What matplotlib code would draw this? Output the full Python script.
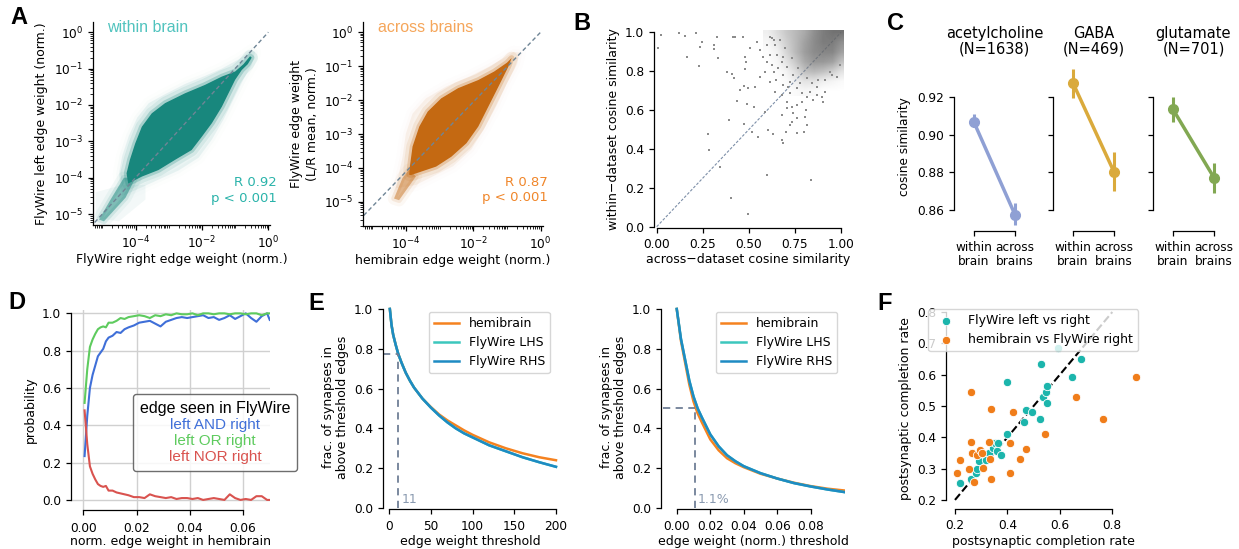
import matplotlib
matplotlib.use('Agg')
import matplotlib.pyplot as plt
import numpy as np
from matplotlib.lines import Line2D
from matplotlib.ticker import FixedLocator, LogLocator, NullFormatter

W, H = 1239, 549

# ---- A: outlines of the two edge-weight clouds, log10 units
within_core_lx = [-4.27, -4.17, -4.01, -3.81, -3.51, -3.11, -2.51, -1.91, -1.40, -1.0, -0.75,
                  -0.55, -0.5, -0.62, -0.8, -1.0, -1.2, -1.40, -1.70, -2.0, -2.31, -2.81, -3.31,
                  -3.81, -4.22]
within_core_ly = [-3.88, -3.51, -3.06, -2.6, -2.23, -1.95, -1.68, -1.45, -1.22, -1.08, -0.88,
                  -0.66, -0.7, -0.88, -1.04, -1.31, -1.68, -2.05, -2.5, -2.87, -3.24, -3.51, -3.79,
                  -3.97, -4.16]
within_halo_lx = [-4.5, -4.4, -4.2, -3.95, -3.6, -3.1, -2.5, -1.9, -1.4, -0.9, -0.5, -0.4,
                  -0.5, -0.75, -1.05, -1.35, -1.7, -2.1, -2.7, -3.3, -3.9, -4.4]
within_halo_ly = [-3.9, -3.4, -2.85, -2.35, -1.95, -1.7, -1.42, -1.2, -1.0, -0.75, -0.5, -0.55,
                  -0.9, -1.3, -1.85, -2.4, -2.95, -3.45, -3.8, -4.05, -4.3, -4.5]
within_tail_lx = [-5.1, -4.75, -4.35, -4.0, -4.3, -4.95]
within_tail_ly = [-5.15, -4.6, -4.0, -4.0, -4.55, -5.2]
within_floor_lx = [-5.2, -5.2, -4.4, -3.7, -3.7, -4.5]
within_floor_ly = [-5.1, -4.4, -4.2, -4.2, -4.6, -5.2]

across_core_lx = [-3.9, -3.88, -3.8, -3.6, -3.35, -2.95, -2.45, -1.85, -1.38, -1.0, -0.86,
                  -0.95, -1.25, -1.55, -1.85, -2.2, -2.65, -3.1, -3.55, -3.85]
across_core_ly = [-4.2, -3.96, -3.37, -2.78, -2.34, -1.95, -1.65, -1.41, -1.16, -0.9, -0.76,
                  -1.0, -1.6, -2.19, -2.78, -3.27, -3.67, -3.96, -4.11, -4.21]
across_halo_lx = [-4.3, -4.1, -4.0, -3.8, -3.4, -2.8, -2.1, -1.6, -1.15, -0.8, -0.62,
                  -0.7, -1.0, -1.3, -1.65, -2.05, -2.6, -3.2, -3.7]
across_halo_ly = [-4.6, -3.7, -3.0, -2.4, -1.95, -1.6, -1.3, -1.05, -0.8, -0.58, -0.6,
                  -0.95, -1.5, -2.15, -2.8, -3.45, -3.95, -4.25, -4.5]
across_tail_lx = [-4.35, -4.1, -3.9, -3.7, -4.2]
across_tail_ly = [-4.9, -4.3, -4.05, -4.25, -4.95]

# ---- B: cosine similarity, single points + density of the crowded corner
b_across = [0.024, 0.123, 0.154, 0.212, 0.005, 0.244, 0.235, 0.311, 0.311, 0.329, 0.163, 0.230,
            0.335, 0.380, 0.409, 0.420, 0.479, 0.483, 0.479, 0.474, 0.494, 0.533, 0.452, 0.434,
            0.488, 0.530, 0.391, 0.474, 0.515, 0.548, 0.606, 0.629, 0.588, 0.682, 0.684, 0.702,
            0.732, 0.814, 0.805, 0.760, 0.280, 0.282, 0.344, 0.401, 0.494, 0.597, 0.835, 0.425,
            0.467, 0.412, 0.506, 0.542, 0.560, 0.597, 0.624, 0.588, 0.637, 0.647, 0.687, 0.723,
            0.642, 0.678, 0.705, 0.741, 0.787, 0.868, 0.895, 0.913, 0.832, 0.868, 0.940, 0.995,
            0.615, 0.637, 0.651, 0.684, 0.615, 0.560, 0.615, 0.723, 0.760, 0.808, 0.678, 0.723,
            0.760, 0.801, 0.624, 0.642, 0.669, 0.696, 0.678, 0.705, 0.732, 0.741, 0.769, 0.778,
            0.814, 0.841, 0.877, 0.913, 0.949, 0.976, 0.597, 0.579, 0.660, 0.687, 0.714, 0.787,
            0.814, 0.850, 0.904, 0.760, 0.705, 0.732]
b_within = [0.986, 0.995, 0.981, 0.995, 0.918, 0.952, 0.926, 0.935, 0.914, 0.974, 0.875, 0.828,
            0.870, 0.798, 0.786, 0.763, 0.871, 0.849, 0.810, 0.724, 0.712, 0.719, 0.702, 0.647,
            0.631, 0.617, 0.549, 0.527, 0.489, 0.463, 0.497, 0.475, 0.588, 0.446, 0.429, 0.489,
            0.540, 0.523, 0.566, 0.626, 0.475, 0.394, 0.309, 0.146, 0.067, 0.266, 0.238, 0.978,
            0.978, 0.978, 0.918, 0.952, 0.909, 0.849, 0.832, 0.798, 0.798, 0.755, 0.729, 0.686,
            0.695, 0.678, 0.609, 0.583, 0.643, 0.678, 0.669, 0.695, 0.695, 0.720, 0.798, 0.832,
            0.978, 0.961, 0.883, 0.875, 0.883, 0.772, 0.746, 0.746, 0.712, 0.600, 0.575, 0.523,
            0.480, 0.489, 0.969, 0.935, 0.961, 0.918, 0.849, 0.823, 0.866, 0.780, 0.815, 0.738,
            0.763, 0.738, 0.755, 0.755, 0.780, 0.772, 0.935, 0.875, 0.815, 0.780, 0.720, 0.686,
            0.669, 0.652, 0.643, 0.557, 0.643, 0.617]
b_grid_x = [0.60, 0.65, 0.70, 0.75, 0.80, 0.85, 0.90, 0.95, 1.00]
b_grid_y = [0.70, 0.75, 0.80, 0.85, 0.90, 0.95, 1.00]
b_density = [[0.00, 0.00, 0.00, 0.05, 0.08, 0.05, 0.00, 0.00, 0.00],
             [0.00, 0.00, 0.05, 0.15, 0.25, 0.25, 0.15, 0.10, 0.05],
             [0.00, 0.03, 0.12, 0.30, 0.50, 0.55, 0.50, 0.40, 0.25],
             [0.00, 0.08, 0.25, 0.45, 0.65, 0.75, 0.75, 0.70, 0.50],
             [0.03, 0.12, 0.35, 0.55, 0.72, 0.82, 0.85, 0.85, 0.70],
             [0.08, 0.22, 0.40, 0.55, 0.70, 0.82, 0.90, 0.90, 0.80],
             [0.15, 0.30, 0.45, 0.55, 0.65, 0.80, 0.90, 0.95, 0.95]]

# ---- C: cosine similarity by transmitter
c_names = ['acetylcholine\n(N=1638)', 'GABA\n(N=469)', 'glutamate\n(N=701)']
c_within = [0.9067, 0.9276, 0.9136]
c_within_lo = [0.9040, 0.9196, 0.9069]
c_within_hi = [0.9110, 0.9352, 0.9200]
c_across = [0.8575, 0.8803, 0.8772]
c_across_lo = [0.8520, 0.8700, 0.8689]
c_across_hi = [0.8637, 0.8910, 0.8848]
c_colors = ['#8fa0d4', '#daaa3c', '#82a852']
c_ticks = ['within\nbrain', 'across\nbrains']

# ---- D: probability edge seen in FlyWire
d_x = [0.0005, 0.0015, 0.0025, 0.0035, 0.0045, 0.0055, 0.0065, 0.0075, 0.0085, 0.0095, 0.011,
       0.0125, 0.014, 0.0155, 0.017, 0.019, 0.021, 0.023, 0.025, 0.027, 0.029, 0.031, 0.033,
       0.035, 0.037, 0.039, 0.041, 0.043, 0.045, 0.047, 0.049, 0.051, 0.053, 0.055, 0.057,
       0.059, 0.061, 0.063, 0.065, 0.067, 0.069, 0.070]
d_or = [0.52, 0.70, 0.82, 0.86, 0.89, 0.915, 0.925, 0.93, 0.925, 0.95, 0.95, 0.96, 0.975, 0.97,
        0.98, 0.985, 0.99, 0.985, 0.975, 0.99, 0.985, 0.995, 0.99, 1.0, 0.995, 0.995, 1.0, 0.99,
        1.0, 1.0, 0.995, 1.0, 1.0, 0.995, 1.0, 1.0, 0.995, 1.0, 1.0, 0.99, 1.0, 1.0]
d_and = [0.235, 0.45, 0.60, 0.67, 0.72, 0.77, 0.79, 0.81, 0.85, 0.87, 0.88, 0.90, 0.895, 0.915,
         0.925, 0.935, 0.95, 0.955, 0.96, 0.945, 0.93, 0.955, 0.965, 0.975, 0.98, 0.975, 0.98,
         0.985, 0.99, 0.975, 0.98, 0.965, 0.975, 0.99, 0.97, 0.985, 1.0, 0.975, 0.955, 0.985,
         1.0, 0.965]
d_nor = [0.48, 0.30, 0.18, 0.14, 0.11, 0.085, 0.075, 0.07, 0.075, 0.05, 0.05, 0.04, 0.035, 0.03,
         0.025, 0.015, 0.015, 0.01, 0.03, 0.02, 0.015, 0.01, 0.015, 0.005, 0.01, 0.01, 0.005,
         0.01, 0.0, 0.005, 0.01, 0.005, 0.0, 0.03, 0.01, 0.0, 0.005, 0.0, 0.02, 0.02, 0.0, 0.0]
d_labels = ['left AND right', 'left OR right', 'left NOR right']
d_colors = ['#3f6fd8', '#5ecb5e', '#d9534f']

# ---- E: fraction of synapses above threshold
e1_x = [1, 3, 5, 8, 11, 15, 20, 25, 30, 40, 50, 60, 70, 80, 90, 100, 120, 140, 160, 180, 200]
e1_fw = [1.0, 0.92, 0.87, 0.82, 0.775, 0.73, 0.68, 0.64, 0.605, 0.55, 0.505, 0.465, 0.43, 0.40,
         0.375, 0.355, 0.315, 0.285, 0.255, 0.23, 0.207]
e1_hb = [1.0, 0.92, 0.87, 0.82, 0.775, 0.73, 0.68, 0.64, 0.605, 0.55, 0.508, 0.47, 0.44, 0.415,
         0.39, 0.368, 0.33, 0.30, 0.275, 0.255, 0.24]
e2_x = [0.0, 0.0025, 0.005, 0.0075, 0.01, 0.0125, 0.015, 0.02, 0.025, 0.03, 0.035, 0.04, 0.05,
        0.06, 0.07, 0.08, 0.09, 0.1]
e2_fw = [1.0, 0.85, 0.745, 0.64, 0.56, 0.50, 0.455, 0.37, 0.31, 0.265, 0.235, 0.21, 0.175, 0.148,
         0.125, 0.108, 0.093, 0.08]
e2_hb = [1.0, 0.84, 0.73, 0.62, 0.535, 0.475, 0.43, 0.345, 0.29, 0.25, 0.225, 0.205, 0.172,
         0.148, 0.127, 0.11, 0.097, 0.088]
e_colors = {'hemibrain': '#f58220', 'FlyWire LHS': '#3cc7bd', 'FlyWire RHS': '#1e8bc3'}

# ---- F: completion rates
f_lr_x = [0.219, 0.260, 0.280, 0.283, 0.292, 0.318, 0.331, 0.346, 0.353, 0.365, 0.360, 0.374,
          0.397, 0.400, 0.463, 0.470, 0.492, 0.524, 0.528, 0.537, 0.546, 0.550, 0.550, 0.594,
          0.645, 0.680]
f_lr_y = [0.255, 0.267, 0.287, 0.300, 0.325, 0.328, 0.351, 0.365, 0.383, 0.383, 0.357, 0.344,
          0.411, 0.577, 0.450, 0.488, 0.480, 0.458, 0.635, 0.530, 0.546, 0.565, 0.510, 0.686,
          0.592, 0.651]
f_hb_x = [0.209, 0.219, 0.255, 0.261, 0.262, 0.264, 0.272, 0.283, 0.295, 0.303, 0.305, 0.328,
          0.335, 0.337, 0.337, 0.409, 0.411, 0.422, 0.449, 0.469, 0.542, 0.660, 0.764, 0.890]
f_hb_y = [0.285, 0.327, 0.298, 0.546, 0.385, 0.351, 0.256, 0.344, 0.358, 0.349, 0.301, 0.384,
          0.330, 0.267, 0.490, 0.383, 0.287, 0.480, 0.331, 0.363, 0.412, 0.530, 0.458, 0.592]

plt.rcParams['font.family'] = 'DejaVu Sans'
plt.rcParams['font.size'] = 9
plt.rcParams['axes.labelsize'] = 9
plt.rcParams['xtick.labelsize'] = 8.7
plt.rcParams['ytick.labelsize'] = 8.7
plt.rcParams['axes.linewidth'] = 0.9
plt.rcParams['xtick.major.width'] = 0.9
plt.rcParams['ytick.major.width'] = 0.9
plt.rcParams['xtick.major.size'] = 3.5
plt.rcParams['ytick.major.size'] = 3.5
plt.rcParams['legend.fontsize'] = 9

fig = plt.figure(figsize=(W / 100, H / 100), dpi=100)


def add_ax(l, t, r, b):
    return fig.add_axes([l / W, 1 - b / H, (r - l) / W, (b - t) / H])


def despine(ax):
    ax.spines['top'].set_visible(False)
    ax.spines['right'].set_visible(False)


def cloud(ax, lx, ly, color, alpha, feather=True):
    xs = 10.0 ** np.array(lx)
    ys = 10.0 ** np.array(ly)
    ax.fill(xs, ys, color=color, alpha=alpha, lw=0)
    if feather:
        # soft border, like the thinning scatter at the edge of the cloud
        for lw, a in [(9, 0.1), (4, 0.25)]:
            ax.fill(xs, ys, facecolor='none', edgecolor=color, alpha=a * alpha, lw=lw,
                    joinstyle='round')


def log_axes(ax, xlim, ylim):
    ax.set_xscale('log')
    ax.set_yscale('log')
    ax.set_xlim(10 ** xlim[0], 10 ** xlim[1])
    ax.set_ylim(10 ** ylim[0], 10 ** ylim[1])
    ax.xaxis.set_major_locator(FixedLocator([1e-4, 1e-2, 1]))
    ax.yaxis.set_major_locator(FixedLocator([1e-5, 1e-4, 1e-3, 1e-2, 1e-1, 1]))
    ax.xaxis.set_minor_locator(LogLocator(base=10, subs=np.arange(1, 10), numticks=100))
    ax.yaxis.set_minor_locator(LogLocator(base=10, subs=np.arange(2, 10), numticks=100))
    ax.xaxis.set_minor_formatter(NullFormatter())
    ax.yaxis.set_minor_formatter(NullFormatter())
    ax.tick_params(which='minor', length=2, width=0.6)
    despine(ax)


def letter(x, y, s):
    fig.text(x / W, 1 - y / H, s, fontsize=17, fontweight='bold',
             family='Liberation Sans', va='top', ha='left')


# A left
ax = add_ax(93, 22, 270, 225)
log_axes(ax, (-5.28, 0.05), (-5.3, 0.28))
cloud(ax, within_floor_lx, within_floor_ly, '#18877d', 0.05, feather=False)
cloud(ax, within_halo_lx, within_halo_ly, '#18877d', 0.08)
cloud(ax, within_tail_lx, within_tail_ly, '#18877d', 0.5)
cloud(ax, within_core_lx, within_core_ly, '#18877d', 1.0)
ax.plot([10 ** -5.23, 1], [10 ** -5.23, 1], '--', color='#6f8596', lw=1, dashes=(3, 2))
ax.text(0.08, 0.975, 'within brain', transform=ax.transAxes, color='#50c3be', fontsize=11.5,
        family='Liberation Sans', va='center')
ax.text(1.04, 0.207, 'R 0.92', transform=ax.transAxes, color='#2ab3aa', fontsize=9.5,
        ha='right', va='center')
ax.text(1.04, 0.133, 'p < 0.001', transform=ax.transAxes, color='#2ab3aa', fontsize=9.5,
        ha='right', va='center')
ax.set_xlabel('FlyWire right edge weight (norm.)', labelpad=1.5)
ax.set_ylabel('FlyWire left edge weight (norm.)')

# A right
ax = add_ax(363, 22, 543, 226)
log_axes(ax, (-5.27, 0.07), (-5.71, 0.3))
cloud(ax, across_halo_lx, across_halo_ly, '#c46912', 0.07)
cloud(ax, across_tail_lx, across_tail_ly, '#c46912', 0.45)
cloud(ax, across_core_lx, across_core_ly, '#c46912', 1.0)
ax.plot([10 ** -5.25, 1], [10 ** -5.4, 1], '--', color='#6f8596', lw=1, dashes=(3, 2))
ax.text(0.083, 0.973, 'across brains', transform=ax.transAxes, color='#f5a65b', fontsize=11.5,
        family='Liberation Sans', va='center')
ax.text(1.028, 0.212, 'R 0.87', transform=ax.transAxes, color='#f0862a', fontsize=9.5,
        ha='right', va='center')
ax.text(1.028, 0.141, 'p < 0.001', transform=ax.transAxes, color='#f0862a', fontsize=9.5,
        ha='right', va='center')
ax.set_xlabel('hemibrain edge weight (norm.)', labelpad=1.5)
ax.set_ylabel('FlyWire edge weight\n(L/R mean, norm.)')

# B
ax = add_ax(654, 30, 843, 228)
despine(ax)
ax.spines['left'].set_bounds(0, 1)
ax.spines['bottom'].set_bounds(0, 1)
ax.plot([0, 1], [0, 1], '--', color='#7d8fa8', lw=0.8, dashes=(2.5, 1.5), zorder=1)
dens = np.array(b_density)
rgba = np.zeros(dens.shape + (4,))
for k in range(3):
    rgba[..., k] = 0.6 - 0.22 * dens
rgba[..., 3] = np.clip(dens * 0.95, 0, 1)
dx = (b_grid_x[1] - b_grid_x[0]) / 2
dy = (b_grid_y[1] - b_grid_y[0]) / 2
ax.imshow(rgba, origin='lower', interpolation='bilinear', aspect='auto', zorder=2,
          extent=(b_grid_x[0] - dx, b_grid_x[-1] + dx, b_grid_y[0] - dy, b_grid_y[-1] + dy))
ax.set_xlim(-0.0146, 1.011)
ax.set_ylim(-0.0067, 1.0123)
ax.scatter(b_across, b_within, s=4.5, marker='s', color='#8c8c8c', lw=0, zorder=3)
ax.set_xticks([0, 0.25, 0.5, 0.75, 1.0])
ax.set_xticklabels(['0.00', '0.25', '0.50', '0.75', '1.00'])
ax.set_yticks([0, 0.2, 0.4, 0.6, 0.8, 1.0])
ax.set_xlabel('across\u2212dataset cosine similarity', labelpad=2)
ax.set_ylabel('within\u2212dataset cosine similarity')

# C
c_left = [953.5, 1052.5, 1152.5]
for i in range(3):
    ax = add_ax(c_left[i], 67.3, c_left[i] + 82, 226.9)
    despine(ax)
    col = c_colors[i]
    ax.plot([0, 1], [c_within[i], c_across[i]], '-', color=col, lw=2.5)
    ys = [c_within[i], c_across[i]]
    lo = [c_within[i] - c_within_lo[i], c_across[i] - c_across_lo[i]]
    hi = [c_within_hi[i] - c_within[i], c_across_hi[i] - c_across[i]]
    ax.errorbar([0, 1], ys, yerr=[lo, hi], fmt='o', color=col, ms=7, elinewidth=2.2, capsize=0)
    ax.set_xlim(-0.5, 1.5)
    ax.set_ylim(0.851, 0.936)
    ax.spines['bottom'].set_position(('outward', 3))
    ax.spines['left'].set_bounds(0.86, 0.92)
    ax.spines['bottom'].set_bounds(0, 1)
    ax.set_yticks([0.86, 0.88, 0.90, 0.92])
    if i > 0:
        ax.set_yticklabels([])
    else:
        ax.set_ylabel('cosine similarity', fontsize=8.7)
    ax.set_xticks([0, 1])
    ax.set_xticklabels(c_ticks, linespacing=1.1)
    ax.set_title(c_names[i], fontsize=10.5, pad=10, linespacing=1.05)

# D
ax = add_ax(71, 310, 270, 510)
ax.set_xlim(-0.0046, 0.0701)
ax.set_ylim(-0.054, 1.018)
despine(ax)
ax.grid(True, color='#d0d0d0', lw=1)
ax.set_axisbelow(True)
ax.spines['left'].set_bounds(0, 1)
ax.spines['bottom'].set_bounds(0, 0.06)
for ys, c in zip([d_and, d_or, d_nor], d_colors):
    ax.plot(d_x, ys, color=c, lw=1.5)
ax.set_xticks([0, 0.02, 0.04, 0.06])
ax.set_xticklabels(['0.00', '0.02', '0.04', '0.06'])
ax.set_yticks([0, 0.2, 0.4, 0.6, 0.8, 1.0])
ax.tick_params(axis='x', pad=5)
ax.set_xlabel('norm. edge weight in hemibrain', labelpad=0.5)
ax.set_ylabel('probability')
handles = [Line2D([], [], lw=0) for _ in d_labels]
leg = ax.legend(handles, d_labels, title='edge seen in FlyWire', handlelength=0, handletextpad=0,
                loc='center', bbox_to_anchor=(0.723, 0.3875), borderaxespad=0,
                prop={'family': 'Liberation Sans', 'size': 11},
                title_fontproperties={'family': 'Liberation Sans', 'size': 11.5},
                edgecolor='#555555', framealpha=0.85, alignment='center', labelspacing=0.15,
                borderpad=0.45)
for t, c in zip(leg.get_texts(), d_colors):
    t.set_color(c)
for colbox in leg._legend_handle_box.get_children():
    colbox.align = 'center'


def e_panel(ax, x, hb, fw):
    despine(ax)
    ax.plot(x, hb, color=e_colors['hemibrain'], lw=1.8, label='hemibrain')
    ax.plot(x, fw, color=e_colors['FlyWire LHS'], lw=1.8, label='FlyWire LHS')
    ax.plot(x, fw, color=e_colors['FlyWire RHS'], lw=1.8, label='FlyWire RHS')
    ax.set_ylim(-0.005, 1.02)
    ax.spines['left'].set_bounds(0, 1)
    ax.set_yticks([0, 0.2, 0.4, 0.6, 0.8, 1.0])
    ax.tick_params(axis='x', pad=4.5)
    ax.set_ylabel('frac. of synapses in\nabove threshold edges', linespacing=1.05)


# E left
ax = add_ax(383, 305, 558, 509)
e_panel(ax, e1_x, e1_hb, e1_fw)
ax.set_xlim(-7.2, 202.4)
ax.spines['bottom'].set_bounds(0, 200)
ax.set_xticks([0, 50, 100, 150, 200])
ax.plot([-7, 11], [0.775, 0.775], color='#6f7f96', lw=1.3, dashes=(4, 3))
ax.plot([11, 11], [0, 0.775], color='#6f7f96', lw=1.3, dashes=(4, 3))
ax.text(15.5, 0.01, '11', color='#8a9ab0', fontsize=9, va='bottom')
ax.set_xlabel('edge weight threshold', labelpad=1)
ax.legend(loc='upper right', bbox_to_anchor=(0.954, 0.966), borderaxespad=0)

# E right
ax = add_ax(661, 305, 845, 509)
e_panel(ax, e2_x, e2_hb, e2_fw)
ax.set_xlim(-0.0094, 0.1004)
ax.spines['bottom'].set_bounds(0, 0.08)
ax.set_xticks([0, 0.02, 0.04, 0.06, 0.08])
ax.set_xticklabels(['0.00', '0.02', '0.04', '0.06', '0.08'])
ax.plot([-0.0085, 0.011], [0.5, 0.5], color='#6f7f96', lw=1.3, dashes=(4, 3))
ax.plot([0.011, 0.011], [0, 0.5], color='#6f7f96', lw=1.3, dashes=(4, 3))
ax.text(0.0127, 0.01, '1.1%', color='#8a9ab0', fontsize=9, va='bottom')
ax.set_xlabel('edge weight (norm.) threshold', labelpad=1)
ax.legend(loc='upper right', bbox_to_anchor=(0.957, 0.966), borderaxespad=0)

# F
ax = add_ax(946, 308, 1140, 509)
despine(ax)
ax.set_xlim(0.1657, 0.9056)
ax.set_ylim(0.171, 0.8128)
ax.spines['left'].set_bounds(0.2, 0.8)
ax.spines['bottom'].set_bounds(0.2, 0.8)
ax.plot([0.2, 0.8], [0.2, 0.8], '--', color='k', lw=1.5, zorder=1)
ax.scatter(f_lr_x, f_lr_y, s=36, color='#1cb5ac', edgecolors='white', linewidths=0.6,
           zorder=3, label='FlyWire left vs right')
ax.scatter(f_hb_x, f_hb_y, s=36, color='#f07d1a', edgecolors='white', linewidths=0.6,
           zorder=3, label='hemibrain vs FlyWire right')
ax.set_xticks([0.2, 0.4, 0.6, 0.8])
ax.set_yticks([0.2, 0.3, 0.4, 0.5, 0.6, 0.7, 0.8])
ax.set_xlabel('postsynaptic completion rate', labelpad=2)
ax.set_ylabel('postsynaptic completion rate')
ax.legend(loc='upper right', bbox_to_anchor=(0.99, 0.995), borderaxespad=0, framealpha=0.8)

letter(10, 6, 'A')
letter(573, 12, 'B')
letter(887, 12, 'C')
letter(8, 291, 'D')
letter(308, 292, 'E')
letter(877, 292, 'F')

fig.savefig('out.png', dpi=100)
